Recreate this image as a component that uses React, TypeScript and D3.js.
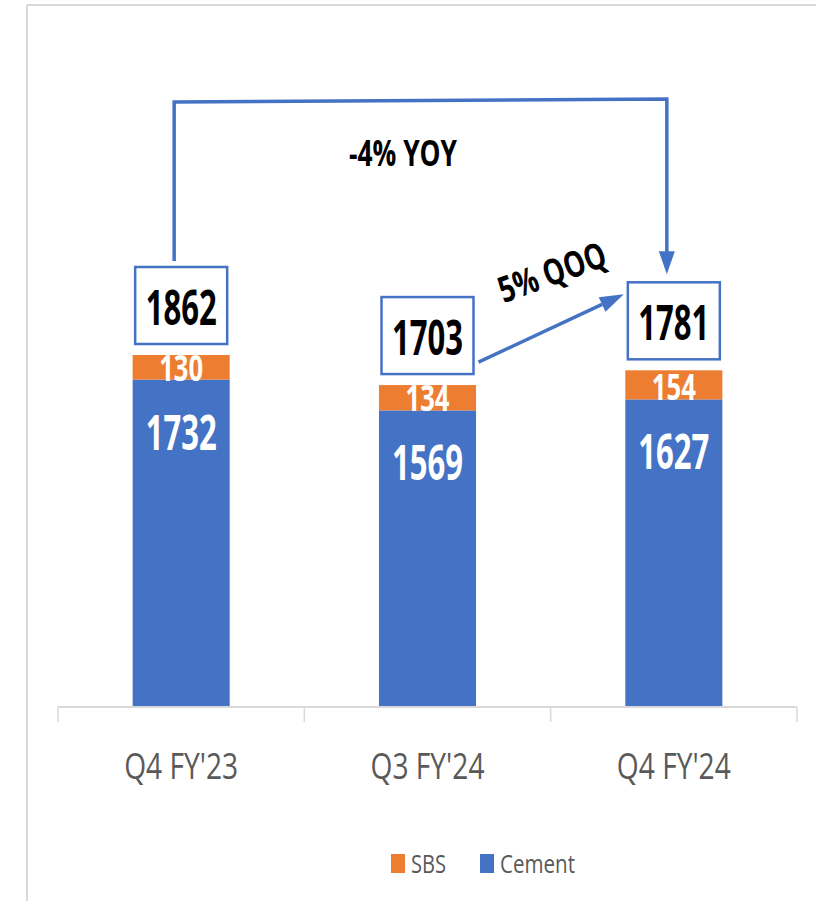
import React from "react";
import * as d3 from "d3";

const categories = ["Q4 FY'23", "Q3 FY'24", "Q4 FY'24"];
const cement = [1732, 1569, 1627];
const sbs = [130, 134, 154];
const totals = [1862, 1703, 1781];
const seriesNames = ["SBS", "Cement"];
const yoyLabel = "-4% YOY";
const qoqLabel = "5% QOQ";

const BLUE = "#4472C4";
const ORANGE = "#ED7D31";
const GRID = "#d9d9d9";
const FONT = "'Open Sans', 'Liberation Sans', sans-serif";

export default function App() {
  const W = 816, H = 901;
  const x = d3.scaleBand<string>().domain(categories).range([58, 797]).paddingInner(0.606).paddingOuter(0.303);
  const y = d3.scaleLinear().domain([0, 1862]).range([707, 355]);
  const bw = x.bandwidth();
  const cx = (i: number) => (x(categories[i]) as number) + bw / 2;
  const boxW = 92, boxH = 77;
  const boxBottom = (i: number) => y(sbs[i] + cement[i]) - 11;
  const boxTop = (i: number) => boxBottom(i) - boxH;

  const ticks = [x.range()[0], ...categories.map((c) => (x(c) as number) + bw + x.step() * 0.303)];

  const tip3 = boxTop(2) - 8;
  const yoyTopY = 100;
  const p1x = cx(0) - 7, p3x = cx(2) - 7;

  // QOQ arrow
  const qs = { x: cx(1) + boxW / 2 + 5, y: boxBottom(1) - 12 };
  const qe = { x: cx(2) - boxW / 2 - 4, y: boxTop(2) + 12 };
  const ang = Math.atan2(qe.y - qs.y, qe.x - qs.x);
  const hl = 24, hw = 8;
  const qb = { x: qe.x - hl * Math.cos(ang), y: qe.y - hl * Math.sin(ang) };
  const qHead = [
    [qe.x, qe.y],
    [qb.x + hw * Math.sin(ang), qb.y - hw * Math.cos(ang)],
    [qb.x - hw * Math.sin(ang), qb.y + hw * Math.cos(ang)],
  ];

  return (
    <svg width={W} height={H} style={{ position: "absolute", left: 0, top: 0, background: "#fff" }}>
      {/* frame */}
      <line x1={27} y1={5} x2={816} y2={5} stroke={GRID} strokeWidth={2} />
      <line x1={27} y1={5} x2={27} y2={901} stroke={GRID} strokeWidth={2} />

      {/* bars */}
      {categories.map((c, i) => (
        <g key={c}>
          <rect x={x(c)} y={y(cement[i])} width={bw} height={y(0) - y(cement[i])} fill={BLUE} />
          <rect x={x(c)} y={y(cement[i] + sbs[i])} width={bw} height={y(cement[i]) - y(cement[i] + sbs[i])} fill={ORANGE} />
          <text x={cx(i)} y={y(cement[i]) + 70} textAnchor="middle" fill="#fff" fontFamily={FONT} fontWeight="bold" fontSize={49} textLength={71} lengthAdjust="spacingAndGlyphs">{cement[i]}</text>
          <text x={cx(i)} y={y(cement[i]) + 1} textAnchor="middle" fill="#fff" fontFamily={FONT} fontWeight="bold" fontSize={35} textLength={44} lengthAdjust="spacingAndGlyphs">{sbs[i]}</text>
          <rect x={cx(i) - boxW / 2} y={boxTop(i)} width={boxW} height={boxH} fill="#fff" stroke={BLUE} strokeWidth={2.5} />
          <text x={cx(i)} y={boxTop(i) + boxH / 2 + 19} textAnchor="middle" fill="#000" fontFamily={FONT} fontWeight="bold" fontSize={49} textLength={71} lengthAdjust="spacingAndGlyphs">{totals[i]}</text>
          <text x={cx(i)} y={779} textAnchor="middle" fill="#595959" fontFamily={FONT} fontSize={36} textLength={114} lengthAdjust="spacingAndGlyphs">{c}</text>
        </g>
      ))}

      {/* axis */}
      <line x1={x.range()[0]} y1={y(0)} x2={x.range()[1]} y2={y(0)} stroke={GRID} strokeWidth={2} />
      {ticks.map((t, i) => (
        <line key={i} x1={t} x2={t} y1={y(0)} y2={y(0) + 15} stroke={GRID} strokeWidth={1.5} />
      ))}

      {/* YOY arrow */}
      <path d={`M${p1x},${boxTop(0) - 6} L${p1x},${yoyTopY + 2} L${p3x},${yoyTopY - 1} L${p3x},${tip3 - 22}`} fill="none" stroke={BLUE} strokeWidth={3.5} />
      <polygon points={`${p3x - 8},${tip3 - 23} ${p3x + 8},${tip3 - 23} ${p3x},${tip3}`} fill={BLUE} />
      <text x={403} y={166} textAnchor="middle" fill="#000" fontFamily={FONT} fontWeight="bold" fontSize={36} textLength={108} lengthAdjust="spacingAndGlyphs">{yoyLabel}</text>

      {/* QOQ arrow */}
      <line x1={qs.x} y1={qs.y} x2={qb.x} y2={qb.y} stroke={BLUE} strokeWidth={3.5} />
      <polygon points={qHead.map((p) => p.join(",")).join(" ")} fill={BLUE} />
      <g transform="translate(552,272) rotate(-20)">
        <text x={0} y={13} textAnchor="middle" fill="#000" fontFamily={FONT} fontWeight="bold" fontSize={36} textLength={112} lengthAdjust="spacingAndGlyphs">{qoqLabel}</text>
      </g>

      {/* legend */}
      <rect x={391} y={854} width={14} height={19} fill={ORANGE} />
      <text x={411} y={873} fill="#595959" fontFamily={FONT} fontSize={26} textLength={35} lengthAdjust="spacingAndGlyphs">{seriesNames[0]}</text>
      <rect x={480} y={854} width={14} height={19} fill={BLUE} />
      <text x={500} y={873} fill="#595959" fontFamily={FONT} fontSize={26} textLength={75} lengthAdjust="spacingAndGlyphs">{seriesNames[1]}</text>
    </svg>
  );
}
